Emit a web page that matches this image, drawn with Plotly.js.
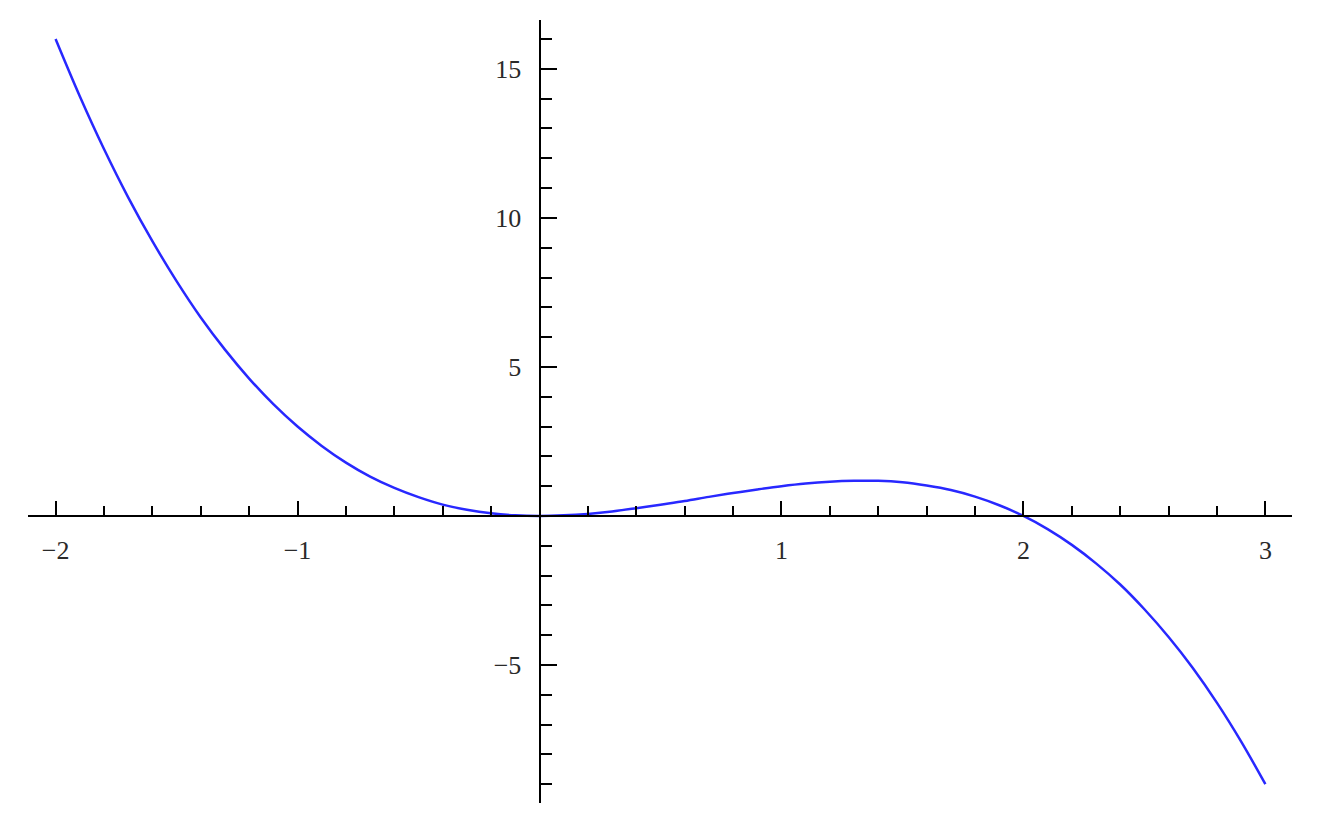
<!DOCTYPE html>
<html>
<head>
<meta charset="utf-8">
<script src="https://cdn.plot.ly/plotly-3.0.1.min.js"></script>
<style>html,body{margin:0;padding:0;background:#fff;}#chart{width:1320px;height:836px;}</style>
</head>
<body>
<div id="chart"></div>
<script>
// values
const xValues = [-2.0,-1.9,-1.8,-1.7,-1.6,-1.5,-1.4,-1.3,-1.2,-1.1,-1.0,-0.9,-0.8,-0.7,-0.6,-0.5,-0.4,-0.3,-0.2,-0.1,0.0,0.1,0.2,0.3,0.4,0.5,0.6,0.7,0.8,0.9,1.0,1.1,1.2,1.3,1.4,1.5,1.6,1.7,1.8,1.9,2.0,2.1,2.2,2.3,2.4,2.5,2.6,2.7,2.8,2.9,3.0];
const yValues = [16.00,14.08,12.31,10.69,9.22,7.88,6.66,5.58,4.61,3.75,3.00,2.35,1.79,1.32,0.94,0.63,0.38,0.21,0.09,0.02,0.00,0.02,0.07,0.15,0.26,0.38,0.50,0.64,0.77,0.89,1.00,1.09,1.15,1.18,1.18,1.13,1.02,0.87,0.65,0.36,0.00,-0.44,-0.97,-1.59,-2.30,-3.13,-4.06,-5.10,-6.27,-7.57,-9.00];
const xTickVals = [-2,-1,1,2,3];
const xTickText = ["\u22122","\u22121","1","2","3"];
const yTickVals = [-5,5,10,15];
const yTickText = ["\u22125","5","10","15"];

const xRange = [-2.114, 3.110];
const yRange = [-9.63, 16.64];

const tickFont = {family: "Liberation Serif, Times New Roman, serif", size: 26, color: "#2a2a2a"};

const trace = {
  x: xValues, y: yValues, type: "scatter", mode: "lines",
  line: {color: "rgb(40,40,255)", width: 2.5, shape: "spline", smoothing: 1},
  hoverinfo: "skip"
};

const layout = {
  width: 1320, height: 836,
  margin: {l: 28, r: 28, t: 20, b: 33},
  paper_bgcolor: "#fff", plot_bgcolor: "#fff",
  showlegend: false,
  xaxis: {
    range: xRange, anchor: "free",
    position: (0 - yRange[0]) / (yRange[1] - yRange[0]),
    showgrid: false, zeroline: false,
    showline: true, linecolor: "#000", linewidth: 2.5,
    tickmode: "array", tickvals: xTickVals, ticktext: xTickText,
    ticks: "inside", ticklen: 14, tickwidth: 2, tickcolor: "#000",
    ticklabelstandoff: 10,
    tickfont: tickFont,
    minor: {tick0: 0, dtick: 0.2, ticks: "inside", ticklen: 9, tickwidth: 2, tickcolor: "#000", showgrid: false}
  },
  yaxis: {
    range: yRange, anchor: "free",
    position: (0 - xRange[0]) / (xRange[1] - xRange[0]),
    showgrid: false, zeroline: false,
    showline: true, linecolor: "#000", linewidth: 2.5,
    tickmode: "array", tickvals: yTickVals, ticktext: yTickText,
    ticks: "inside", ticklen: 16, tickwidth: 2, tickcolor: "#000",
    ticklabelstandoff: 12,
    tickfont: tickFont,
    minor: {tick0: 0, dtick: 1, ticks: "inside", ticklen: 11, tickwidth: 2, tickcolor: "#000", showgrid: false}
  }
};

Plotly.newPlot("chart", [trace], layout, {displayModeBar: false, staticPlot: true});
</script>
</body>
</html>
